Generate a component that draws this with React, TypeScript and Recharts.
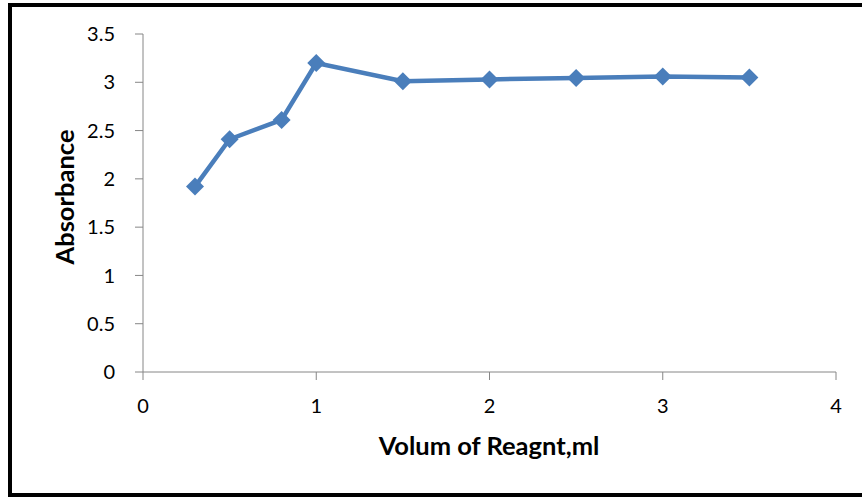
import { LineChart, Line, XAxis, YAxis } from 'recharts'

const volumes = [0.3, 0.5, 0.8, 1, 1.5, 2, 2.5, 3, 3.5]
const absorbance = [1.92, 2.41, 2.61, 3.2, 3.01, 3.03, 3.045, 3.06, 3.05]
const xTicks = [0, 1, 2, 3, 4]
const yTicks = [0, 0.5, 1, 1.5, 2, 2.5, 3, 3.5]

const LINE_COLOR = '#4A7EBB'
const AXIS_COLOR = '#868686'
const FONT = 'Lato, "Open Sans", sans-serif'

const data = volumes.map((v, i) => ({ volume: v, absorbance: absorbance[i] }))

function Diamond(props: any) {
    const { cx, cy, index } = props
    if (cx == null || cy == null) return null
    const r = 9
    return (
        <path
            key={index}
            d={`M${cx},${cy - r} L${cx + r},${cy} L${cx},${cy + r} L${cx - r},${cy} Z`}
            fill={LINE_COLOR}
        />
    )
}

export default function App() {
    return (
        <div style={{ position: 'absolute', left: 0, top: 0, width: 862, height: 498, background: '#fff', overflow: 'hidden' }}>
            <div
                style={{
                    position: 'absolute',
                    left: 8,
                    top: 3,
                    width: 870,
                    height: 494,
                    border: '4px solid #000',
                    boxSizing: 'border-box',
                }}
            />
            <div style={{ position: 'absolute', left: 0, top: 0 }}>
                <LineChart
                    width={862}
                    height={498}
                    data={data}
                    margin={{ top: 34, right: 26, bottom: 66, left: 83 }}
                >
                    <XAxis
                        dataKey="volume"
                        type="number"
                        domain={[0, 4]}
                        ticks={xTicks}
                        height={60}
                        stroke={AXIS_COLOR}
                        tickSize={8}
                        tickMargin={19}
                        tick={{ fill: '#000', fontSize: 20, fontFamily: FONT }}
                    />
                    <YAxis
                        type="number"
                        domain={[0, 3.5]}
                        ticks={yTicks}
                        width={60}
                        stroke={AXIS_COLOR}
                        tickSize={8}
                        tickMargin={20}
                        tick={{ fill: '#000', fontSize: 20, fontFamily: FONT }}
                    />
                    <Line
                        dataKey="absorbance"
                        stroke={LINE_COLOR}
                        strokeWidth={4.5}
                        dot={<Diamond />}
                        activeDot={false}
                        isAnimationActive={false}
                    />
                    <text
                        x={489}
                        y={455}
                        textAnchor="middle"
                        fontFamily={FONT}
                        fontWeight="bold"
                        fontSize={25.5}
                        fill="#000"
                    >
                        Volum of Reagnt,ml
                    </text>
                    <text
                        x={74}
                        y={197}
                        textAnchor="middle"
                        transform="rotate(-90 74 197)"
                        fontFamily={FONT}
                        fontWeight="bold"
                        fontSize={25.5}
                        fill="#000"
                    >
                        Absorbance
                    </text>
                </LineChart>
            </div>
        </div>
    )
}
